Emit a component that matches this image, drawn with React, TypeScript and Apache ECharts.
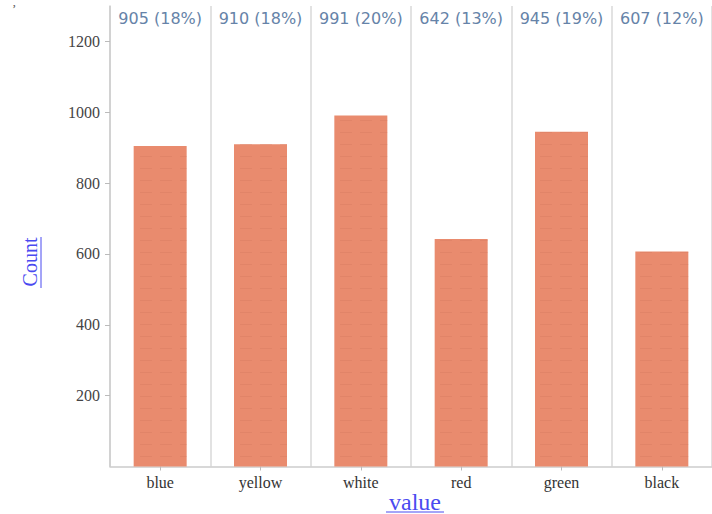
import React, { useEffect, useRef } from 'react';
import * as echarts from 'echarts';

const categories = ['blue', 'yellow', 'white', 'red', 'green', 'black'];
const counts = [905, 910, 991, 642, 945, 607];
const yTicks = [200, 400, 600, 800, 1000, 1200];
const yMax = 1300;
const total = counts.reduce((a, b) => a + b, 0);

export default function App() {
  const ref = useRef<HTMLDivElement>(null);
  useEffect(() => {
    const chart = echarts.init(ref.current!, null, { renderer: 'svg' });
    const serif = '"Liberation Serif", "DejaVu Serif", serif';
    chart.setOption({
      animation: false,
      backgroundColor: '#ffffff',
      grid: { left: 110, top: 6, width: 611, height: 460.5 },
      xAxis: [
        {
          type: 'category',
          data: categories,
          position: 'bottom',
          axisLine: { show: true, lineStyle: { color: '#cccccc', width: 1.5 } },
          axisTick: { show: true, alignWithLabel: true, length: 4, lineStyle: { color: '#bbbbbb' } },
          axisLabel: { color: '#333333', fontFamily: serif, fontSize: 16, margin: 8, interval: 0 },
          splitLine: { show: true, lineStyle: { color: '#e2e2e2', width: 2 } },
        },
        {
          type: 'category',
          data: categories,
          position: 'top',
          axisLine: { show: false },
          axisTick: { show: false },
          splitLine: { show: false },
          axisLabel: {
            inside: true,
            interval: 0,
            margin: 4,
            color: '#6683a8',
            fontFamily: '"DejaVu Sans", Verdana, sans-serif',
            fontSize: 16,
            formatter: (_v: string, i: number) =>
              `${counts[i]} (${Math.round((counts[i] / total) * 100)}%)`,
          },
        },
      ],
      yAxis: {
        type: 'value',
        min: 0,
        max: yMax,
        interval: 100,
        axisLine: { show: true, lineStyle: { color: '#cccccc', width: 1.5 } },
        axisTick: { show: true, length: 5, lineStyle: { color: '#bbbbbb' }, customValues: yTicks },
        axisLabel: {
          color: '#444444',
          fontFamily: serif,
          fontSize: 16,
          margin: 10,
          customValues: yTicks,
          formatter: (v: number) => String(v),
        },
        splitLine: { show: false },
      },
      series: [
        {
          type: 'bar',
          data: counts,
          xAxisIndex: 0,
          barWidth: 53,
          itemStyle: {
            color: '#e98b6e',
            decal: {
              symbol: 'rect',
              symbolSize: 1,
              color: 'rgba(205, 115, 90, 0.3)',
              dashArrayX: [[12, 8]],
              dashArrayY: [1, 11],
              rotation: 0,
            },
          },
        },
      ],
      graphic: [
        {
          type: 'text',
          left: 12,
          top: 2,
          style: { text: '\u2019', fill: '#555', fontSize: 13, fontFamily: serif },
        },
        {
          type: 'text',
          x: 30,
          y: 262,
          rotation: Math.PI / 2,
          style: {
            text: 'Count',
            fill: '#4a4af0',
            fontSize: 20,
            fontFamily: serif,
            align: 'center',
            verticalAlign: 'middle',
          },
        },
        {
          type: 'line',
          shape: { x1: 41, y1: 237, x2: 41, y2: 288 },
          style: { stroke: '#4a4af0', lineWidth: 1 },
        },
        {
          type: 'text',
          x: 415,
          y: 502,
          style: {
            text: 'value',
            fill: '#4a4af0',
            fontSize: 24,
            fontFamily: serif,
            align: 'center',
            verticalAlign: 'middle',
          },
        },
        {
          type: 'line',
          shape: { x1: 386, y1: 512, x2: 444, y2: 512 },
          style: { stroke: '#4a4af0', lineWidth: 1 },
        },
      ],
    });
    return () => chart.dispose();
  }, []);
  return (
    <div
      ref={ref}
      style={{ position: 'fixed', left: 0, top: 0, width: 712, height: 514, background: '#fff' }}
    />
  );
}
